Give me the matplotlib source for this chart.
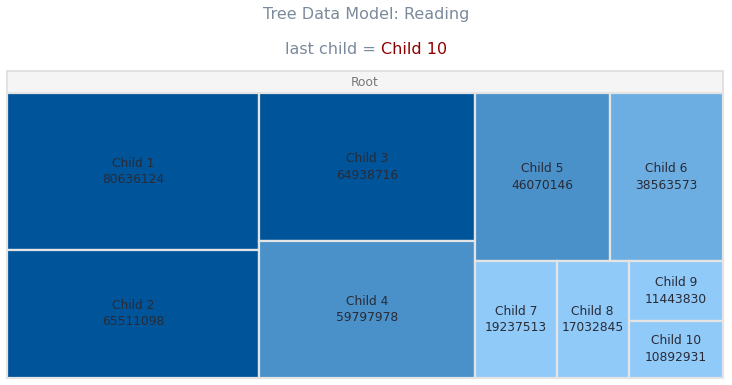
import matplotlib
matplotlib.use("Agg")
import matplotlib.pyplot as plt
from matplotlib.patches import Rectangle

# ---- data ----
title = "Tree Data Model: Reading"
subtitle_prefix = "last child = "
subtitle_value = "Child 10"
root_name = "Root"
names = ["Child 1", "Child 2", "Child 3", "Child 4", "Child 5",
         "Child 6", "Child 7", "Child 8", "Child 9", "Child 10"]
values = [80636124, 65511098, 64938716, 59797978, 46070146,
          38563573, 19237513, 17032845, 11443830, 10892931]
# colour classes (upper bound, colour)
class_bounds = [20e6, 40e6, 60e6, float("inf")]
class_colors = ["#90CAF9", "#6CAEE1", "#4A90C9", "#00559A"]


def color_for(v):
    for b, c in zip(class_bounds, class_colors):
        if v < b:
            return c
    return class_colors[-1]


# ---- squarified treemap ----
def worst(row, w):
    s = sum(row)
    return max(max(w * w * r / (s * s), (s * s) / (w * w * r)) for r in row)


def layout_row(row, x, y, dx, dy, out):
    s = sum(row)
    if dx >= dy:  # vertical column on left
        width = s / dy
        yy = y
        for r in row:
            h = r / width
            out.append((x, yy, width, h))
            yy += h
        return x + width, y, dx - width, dy
    else:  # horizontal row on top
        height = s / dx
        xx = x
        for r in row:
            w = r / height
            out.append((xx, y, w, height))
            xx += w
        return x, y + height, dx, dy - height


def squarify(vals, x, y, dx, dy):
    total = sum(vals)
    areas = [v * dx * dy / total for v in vals]
    out = []
    i = 0
    while i < len(areas):
        side = min(dx, dy)
        row = [areas[i]]
        i += 1
        while i < len(areas):
            if worst(row + [areas[i]], side) <= worst(row, side):
                row.append(areas[i])
                i += 1
            else:
                break
        x, y, dx, dy = layout_row(row, x, y, dx, dy, out)
    return out


W, H = 732, 385
fig = plt.figure(figsize=(W / 100, H / 100), dpi=100)
ax = fig.add_axes([0, 0, 1, 1])
ax.set_xlim(0, W)
ax.set_ylim(H, 0)
ax.axis("off")

font = "DejaVu Sans"
plot_x0, plot_x1 = 6.5, 723
header_y0, header_y1 = 70.5, 93
plot_y1 = 377.5

# header
ax.add_patch(Rectangle((plot_x0, header_y0), plot_x1 - plot_x0, header_y1 - header_y0,
                       facecolor="#F5F5F5", edgecolor="#DDDDDD", lw=1.2))
ax.text((plot_x0 + plot_x1) / 2, (header_y0 + header_y1) / 2 + 0.5, root_name,
        ha="center", va="center", fontsize=8.8, color="#777777", family=font)

# rectangles
rects = squarify(values, plot_x0, header_y1, plot_x1 - plot_x0, plot_y1 - header_y1)
for (rx, ry, rw, rh), n, v in zip(rects, names, values):
    ax.add_patch(Rectangle((rx, ry), rw, rh, facecolor=color_for(v),
                           edgecolor="#E4E4E4", lw=1.6))
    cx, cy = rx + rw / 2, ry + rh / 2
    ax.text(cx, cy, f"{n}\n{v}", ha="center", va="center", fontsize=8.8,
            color="#2A2A35", family=font, linespacing=1.35)

# title
ax.text(W / 2, 14, title, ha="center", va="center", fontsize=11.5,
        color="#7B8A9B", family=font)

# subtitle with two colours
renderer = fig.canvas.get_renderer()
t1 = ax.text(0, 0, subtitle_prefix, fontsize=11.5, family=font)
t2 = ax.text(0, 0, subtitle_value, fontsize=11.5, family=font)
w1 = t1.get_window_extent(renderer).width
w2 = t2.get_window_extent(renderer).width
t1.remove()
t2.remove()
start = W / 2 - (w1 + w2) / 2 + 0.5
ax.text(start, 50, subtitle_prefix, ha="left", va="center", fontsize=11.5,
        color="#7B8A9B", family=font)
ax.text(start + w1, 50, subtitle_value, ha="left", va="center", fontsize=11.5,
        color="#8B0000", family=font)

fig.savefig("out.png", dpi=100)
